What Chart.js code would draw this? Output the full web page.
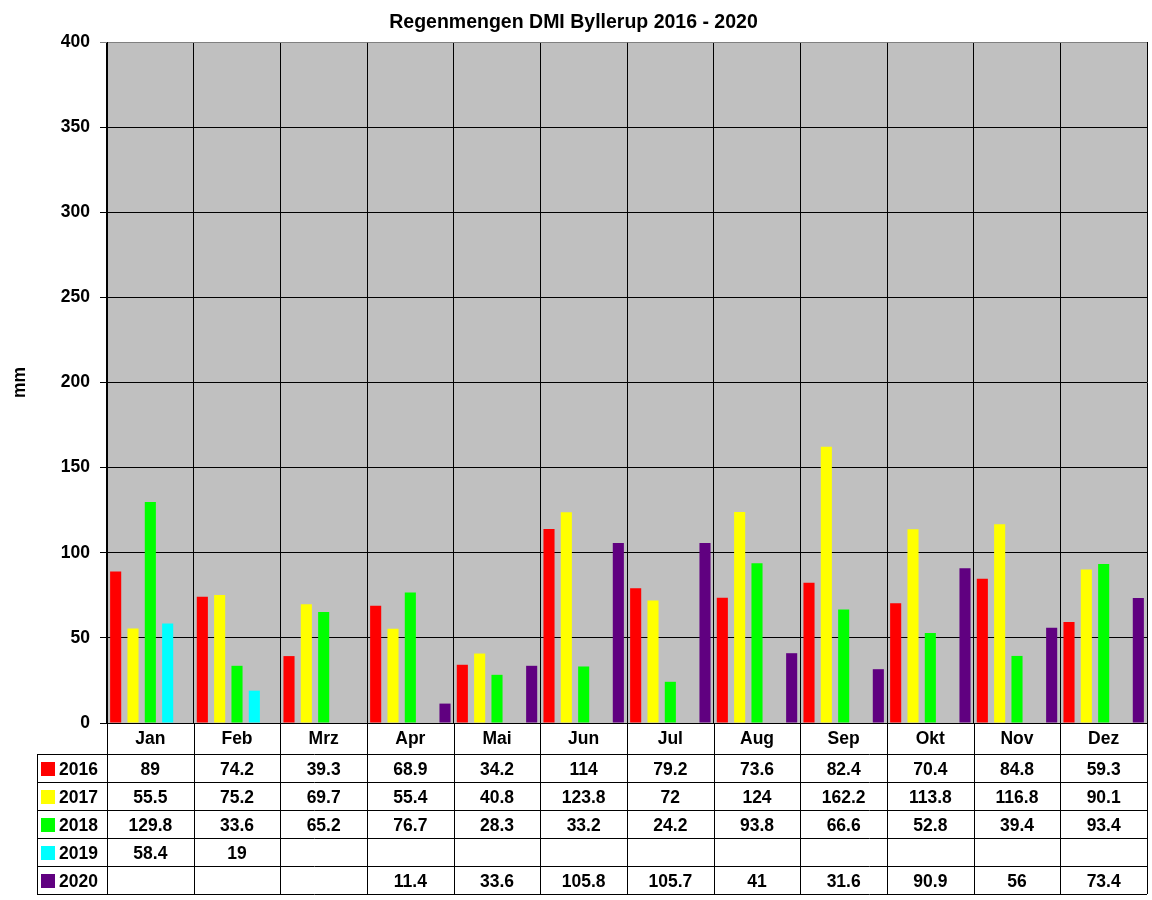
<!DOCTYPE html>
<html>
<head>
<meta charset="utf-8">
<script src="https://cdn.jsdelivr.net/npm/chart.js@4/dist/chart.umd.min.js"></script>
<style>
  html, body { margin: 0; padding: 0; background: #fff; }
  #wrap { width: 1152px; height: 900px; }
</style>
</head>
<body>
<div id="wrap"><canvas id="rainChart"></canvas></div>
<script>
const months = ['Jan', 'Feb', 'Mrz', 'Apr', 'Mai', 'Jun', 'Jul', 'Aug', 'Sep', 'Okt', 'Nov', 'Dez'];
const years = ['2016', '2017', '2018', '2019', '2020'];
const rain2016 = [89, 74.2, 39.3, 68.9, 34.2, 114, 79.2, 73.6, 82.4, 70.4, 84.8, 59.3];
const rain2017 = [55.5, 75.2, 69.7, 55.4, 40.8, 123.8, 72, 124, 162.2, 113.8, 116.8, 90.1];
const rain2018 = [129.8, 33.6, 65.2, 76.7, 28.3, 33.2, 24.2, 93.8, 66.6, 52.8, 39.4, 93.4];
const rain2019 = [58.4, 19, null, null, null, null, null, null, null, null, null, null];
const rain2020 = [null, null, null, 11.4, 33.6, 105.8, 105.7, 41, 31.6, 90.9, 56, 73.4];
const colors = ['#FF0000', '#FFFF00', '#00FF00', '#00FFFF', '#600080'];

const series = [rain2016, rain2017, rain2018, rain2019, rain2020];
const family = "'Liberation Sans', Arial, sans-serif";
const tableFont = "bold 17.5px " + family;

const plotBackground = {
  id: 'plotBackground',
  beforeDraw: (chart) => {
    const {ctx, chartArea} = chart;
    ctx.save();
    ctx.fillStyle = '#C0C0C0';
    ctx.fillRect(chartArea.left, chartArea.top, chartArea.right - chartArea.left, chartArea.bottom - chartArea.top);
    ctx.restore();
  }
};

// data table under the plot, columns follow the x scale
const dataTable = {
  id: 'dataTable',
  afterDraw: (chart) => {
    const {ctx, chartArea} = chart;
    const x = chart.scales.x;
    const top = chartArea.bottom;
    const headBottom = top + 31;
    const rowH = 28;
    const tableLeft = 37;
    const bottom = headBottom + rowH * years.length;
    const colW = (chartArea.right - chartArea.left) / months.length;
    ctx.save();
    ctx.strokeStyle = '#000';
    ctx.lineWidth = 1;
    ctx.beginPath();
    for (let i = 0; i <= months.length; i++) {
      const lx = Math.round(chartArea.left + i * colW) + 0.5;
      ctx.moveTo(lx, top);
      ctx.lineTo(lx, bottom);
    }
    ctx.moveTo(tableLeft + 0.5, headBottom);
    ctx.lineTo(tableLeft + 0.5, bottom);
    for (let r = 0; r <= years.length; r++) {
      const ly = Math.round(headBottom + r * rowH) + 0.5;
      ctx.moveTo(tableLeft, ly);
      ctx.lineTo(chartArea.right, ly);
    }
    ctx.stroke();

    ctx.font = tableFont;
    ctx.fillStyle = '#000';
    ctx.textAlign = 'center';
    ctx.textBaseline = 'middle';
    months.forEach((m, i) => {
      ctx.fillText(m, x.getPixelForValue(i), top + 16);
    });
    years.forEach((y, r) => {
      const cy = headBottom + r * rowH + rowH / 2 + 2;
      ctx.fillStyle = colors[r];
      ctx.fillRect(tableLeft + 4, cy - 8, 14, 14);
      ctx.fillStyle = '#000';
      ctx.textAlign = 'left';
      ctx.fillText(y, tableLeft + 22, cy);
      ctx.textAlign = 'center';
      series[r].forEach((v, i) => {
        if (v !== null) ctx.fillText(String(v), x.getPixelForValue(i), cy);
      });
    });
    ctx.restore();
  }
};

const datasets = years.map((y, i) => ({
  label: y,
  data: series[i],
  backgroundColor: colors[i],
  borderWidth: 0,
  barPercentage: 0.64,
  categoryPercentage: 1.0
}));

const config = {
  type: 'bar',
  data: { labels: months, datasets: datasets },
  options: {
    responsive: true,
    maintainAspectRatio: false,
    animation: false,
    layout: { padding: { left: 0, right: 5, top: 0, bottom: 0 } },
    plugins: {
      legend: { display: false },
      tooltip: { enabled: false },
      title: {
        display: true,
        text: 'Regenmengen DMI Byllerup 2016 - 2020',
        color: '#000',
        font: { family: family, size: 19.5, weight: 'bold' },
        padding: { top: 11, bottom: 7.6 }
      }
    },
    scales: {
      x: {
        ticks: { display: false },
        grid: {
          drawTicks: false,
          offset: true,
          color: (c) => (c.index === months.length ? '#808080' : '#000')
        },
        border: { color: '#000' },
        afterFit: (s) => { s.height = 177; }
      },
      y: {
        min: 0,
        max: 400,
        ticks: {
          stepSize: 50,
          padding: 10,
          color: '#000',
          font: { family: family, size: 17.5, weight: 'bold' }
        },
        grid: {
          tickLength: 7,
          color: (c) => (c.tick && c.tick.value === 400 ? '#808080' : '#000')
        },
        border: { color: '#000' },
        title: {
          display: true,
          text: 'mm',
          color: '#000',
          padding: { top: 10, bottom: 0 },
          font: { family: family, size: 17.5, weight: 'bold' }
        },
        afterFit: (s) => { s.width = 107; }
      }
    }
  },
  plugins: [plotBackground, dataTable]
};

const rainChart = new Chart(document.getElementById('rainChart'), config);
</script>
</body>
</html>
